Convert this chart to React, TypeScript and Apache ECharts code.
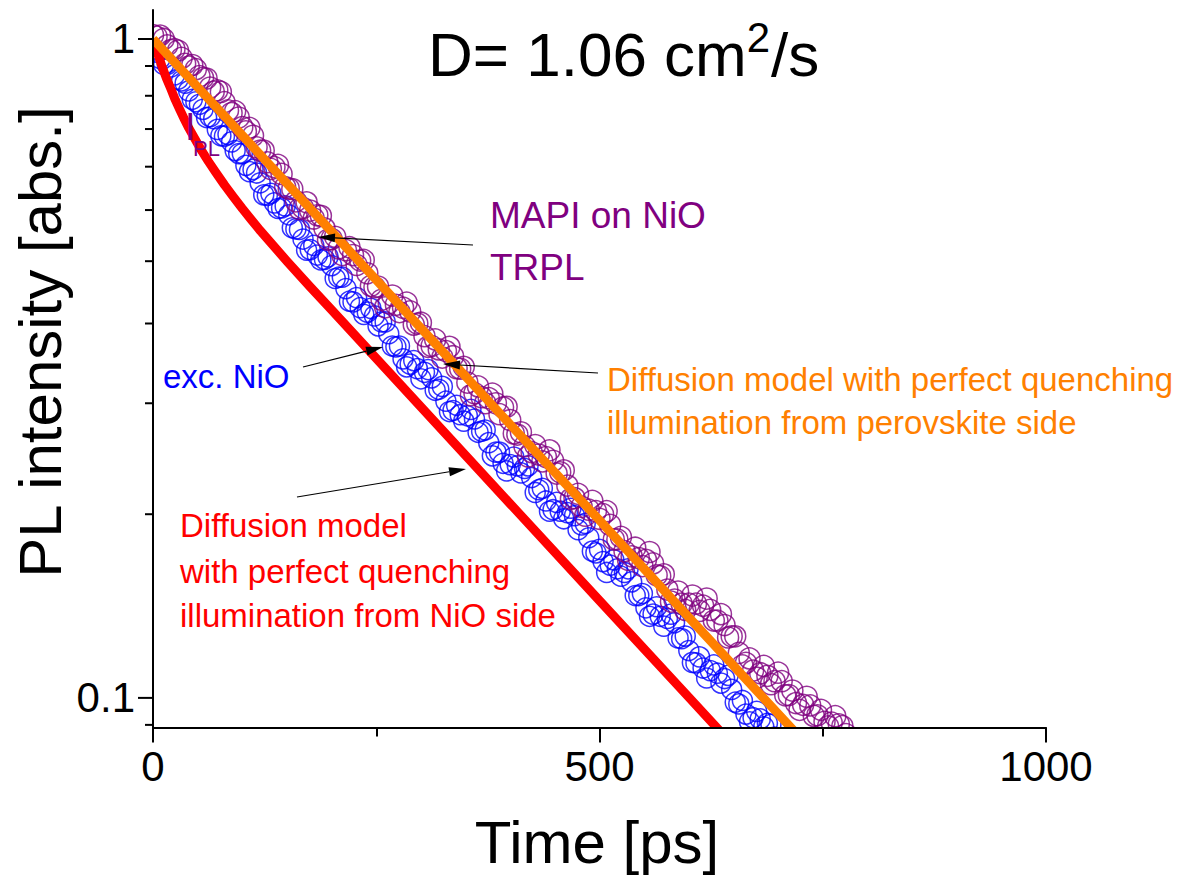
import React, { useEffect, useRef } from "react";
import * as echarts from "echarts";

const FONT = "'Liberation Sans', Arial, Helvetica, sans-serif";

// Sample times (ps) of the TRPL data
const sampleTimes = [
  0, 4, 8, 12, 16, 20, 24, 28, 32, 36, 40, 44, 48, 52, 56, 60, 64, 68, 72, 76,
  80, 84, 88, 92, 96, 100, 104, 108, 112, 116, 120, 124, 128, 132, 136, 140, 144, 148, 152, 156,
  160, 164, 168, 172, 176, 180, 184, 188, 192, 196, 200, 204, 208, 212, 216, 220, 224, 228, 232, 236,
  240, 244, 248, 252, 256, 260, 264, 268, 272, 276, 280, 284, 288, 292, 296, 300, 304, 308, 312, 316,
  320, 324, 328, 332, 336, 340, 344, 348, 352, 356, 360, 364, 368, 372, 376, 380, 384, 388, 392, 396,
  400, 404, 408, 412, 416, 420, 424, 428, 432, 436, 440, 444, 448, 452, 456, 460, 464, 468, 472, 476,
  480, 484, 488, 492, 496, 500, 504, 508, 512, 516, 520, 524, 528, 532, 536, 540, 544, 548, 552, 556,
  560, 564, 568, 572, 576, 580, 584, 588, 592, 596, 600, 604, 608, 612, 616, 620, 624, 628, 632, 636,
  640, 644, 648, 652, 656, 660, 664, 668, 672, 676, 680, 684, 688, 692, 696, 700, 704, 708, 712, 716,
  720, 724, 728, 732, 736, 740, 744, 748, 752, 756, 760, 764, 768, 772, 776,
];

// exc. NiO (blue circles)
const blueValues = [
  0.966, 0.955, 0.934, 0.915, 0.915, 0.907, 0.882, 0.869, 0.864, 0.857,
  0.834, 0.810, 0.803, 0.796, 0.782, 0.760, 0.762, 0.757, 0.729, 0.713,
  0.712, 0.716, 0.698, 0.677, 0.670, 0.670, 0.643, 0.629, 0.634, 0.626,
  0.605, 0.580, 0.579, 0.583, 0.564, 0.553, 0.554, 0.558, 0.541, 0.517,
  0.515, 0.514, 0.497, 0.478, 0.479, 0.486, 0.470, 0.462, 0.463, 0.467,
  0.453, 0.433, 0.435, 0.435, 0.418, 0.400, 0.399, 0.405, 0.391, 0.382,
  0.385, 0.390, 0.380, 0.367, 0.372, 0.372, 0.357, 0.342, 0.341, 0.342,
  0.327, 0.318, 0.321, 0.325, 0.316, 0.305, 0.312, 0.315, 0.306, 0.293,
  0.294, 0.297, 0.282, 0.272, 0.273, 0.278, 0.269, 0.263, 0.268, 0.274,
  0.265, 0.253, 0.254, 0.255, 0.244, 0.233, 0.236, 0.236, 0.227, 0.221,
  0.226, 0.232, 0.225, 0.2195, 0.223, 0.225, 0.216, 0.205, 0.207, 0.208,
  0.199, 0.192, 0.193, 0.198, 0.192, 0.187, 0.191, 0.194, 0.189, 0.180,
  0.183, 0.184, 0.175, 0.167, 0.166, 0.168, 0.161, 0.155, 0.159, 0.162,
  0.157, 0.153, 0.155, 0.157, 0.150, 0.143, 0.143, 0.144, 0.137, 0.133,
  0.134, 0.1375, 0.133, 0.1285, 0.132, 0.134, 0.130, 0.1233, 0.123, 0.1241,
  0.118, 0.1132, 0.113, 0.1154, 0.111, 0.1072, 0.110, 0.1122, 0.109, 0.1053,
  0.107, 0.1082, 0.103, 0.0985, 0.0979, 0.0991, 0.0945, 0.0920, 0.0933, 0.0954,
  0.0929, 0.0904, 0.0915, 0.0912, 0.0872, 0.0860, 0.0835,
];

// MAPI on NiO TRPL (purple circles)
const purpleValues = [
  1.014, 1.008, 1.012, 1.000, 0.978, 0.962, 0.965, 0.960, 0.936, 0.917,
  0.908, 0.913, 0.900, 0.878, 0.873, 0.871, 0.844, 0.832, 0.836, 0.831,
  0.802, 0.779, 0.772, 0.777, 0.760, 0.735, 0.724, 0.733, 0.713, 0.685,
  0.677, 0.677, 0.650, 0.635, 0.639, 0.644, 0.624, 0.596, 0.593, 0.592,
  0.567, 0.552, 0.554, 0.565, 0.549, 0.534, 0.540, 0.539, 0.516, 0.496,
  0.497, 0.501, 0.481, 0.470, 0.478, 0.483, 0.470, 0.454, 0.461, 0.462,
  0.441, 0.422, 0.420, 0.421, 0.402, 0.3915, 0.397, 0.408, 0.395, 0.385,
  0.391, 0.398, 0.386, 0.3685, 0.370, 0.371, 0.354, 0.341, 0.342, 0.350,
  0.338, 0.3285, 0.336, 0.341, 0.330, 0.3165, 0.316, 0.318, 0.301, 0.288,
  0.290, 0.297, 0.286, 0.280, 0.285, 0.2895, 0.280, 0.2695, 0.276, 0.2765,
  0.264, 0.252, 0.251, 0.253, 0.241, 0.2325, 0.236, 0.242, 0.234, 0.2285,
  0.232, 0.2375, 0.229, 0.219, 0.220, 0.2215, 0.210, 0.2005, 0.201, 0.204,
  0.195, 0.189, 0.193, 0.199, 0.192, 0.187, 0.190, 0.192, 0.183, 0.174,
  0.174, 0.1755, 0.167, 0.162, 0.164, 0.169, 0.163, 0.1585, 0.162, 0.1665,
  0.160, 0.1535, 0.153, 0.154, 0.146, 0.140, 0.141, 0.145, 0.139, 0.136,
  0.139, 0.143, 0.139, 0.1355, 0.138, 0.1415, 0.136, 0.131, 0.131, 0.134,
  0.129, 0.1235, 0.124, 0.124, 0.117, 0.112, 0.113, 0.1148, 0.110, 0.1073,
  0.109, 0.1118, 0.108, 0.1049, 0.106, 0.1092, 0.106, 0.1009, 0.101, 0.1026,
  0.0982, 0.0959, 0.0976, 0.1004, 0.0974, 0.0939, 0.0941, 0.0959, 0.0920, 0.0905,
  0.0917, 0.0938, 0.0912, 0.0906, 0.0881,
];

// Diffusion model, illumination from NiO side (red)
const redTimes = [0, 5, 10, 15, 20, 25, 30, 35, 40, 47, 55, 62, 70, 80, 90, 100, 110, 120, 130, 150, 175, 200, 300, 400, 500, 600, 660];
const redValues = [1, 0.952, 0.909, 0.872, 0.84, 0.808, 0.781, 0.756, 0.733, 0.705, 0.675, 0.652, 0.628, 0.6005, 0.576, 0.553, 0.532, 0.512, 0.494, 0.46, 0.422, 0.388, 0.2765, 0.197, 0.1405, 0.1002, 0.0818];

// Diffusion model, illumination from perovskite side (orange)
const orangeTimes = [0, 100, 200, 300, 400, 500, 600, 700, 720];
const orangeValues = [1, 0.714, 0.51, 0.364, 0.26, 0.186, 0.1325, 0.0946, 0.0884];

// y-axis ticks (log axis, linear minor ticks)
const yMajorTicks = [1, 0.1];
const yMajorLabels = ["1", "0.1"];
const yMinorTicks = [0.91, 0.82, 0.73, 0.64, 0.55, 0.46, 0.37, 0.28, 0.19, 0.091];

const Y_MIN = 0.09017;
const Y_MAX = 1.1066;

function arrow(x1: number, y1: number, x2: number, y2: number) {
  const dx = x2 - x1;
  const dy = y2 - y1;
  const L = Math.hypot(dx, dy);
  const ux = dx / L;
  const uy = dy / L;
  const hl = 17;
  const hw = 4.5;
  const bx = x2 - ux * hl;
  const by = y2 - uy * hl;
  return [
    { type: "line", z: 20, shape: { x1, y1, x2: bx, y2: by }, style: { stroke: "#000", lineWidth: 1.2 } },
    {
      type: "polygon",
      z: 20,
      shape: { points: [[x2, y2], [bx - uy * hw, by + ux * hw], [bx + uy * hw, by - ux * hw]] },
      style: { fill: "#000" },
    },
  ];
}

function txt(text: string, x: number, y: number, size: number, color: string) {
  return {
    type: "text",
    x,
    y,
    z: 20,
    style: {
      text,
      fill: color,
      fontSize: size,
      fontFamily: FONT,
      align: "left",
      verticalAlign: "middle",
    },
  };
}

export default function App() {
  const ref = useRef<HTMLDivElement>(null);
  useEffect(() => {
    if (!ref.current) return;
    const chart = echarts.init(ref.current, null, { renderer: "svg" });

    const ctx = document.createElement("canvas").getContext("2d")!;
    const titleMain = "D= 1.06 cm";
    ctx.font = `62px ${FONT}`;
    const w1 = ctx.measureText(titleMain).width;
    ctx.font = `42px ${FONT}`;
    const w2 = ctx.measureText("2").width;

    const blueData = blueValues.map((v, i) => [sampleTimes[i], v]);
    const purpleData = purpleValues.map((v, i) => [sampleTimes[i], v]);
    const redData = redValues.map((v, i) => [redTimes[i], v]);
    const orangeData = orangeValues.map((v, i) => [orangeTimes[i], v]);
    const tickData = [
      ...yMajorTicks.map((v, i) => [0, v, 1, i]),
      ...yMinorTicks.map((v) => [0, v, 0, -1]),
    ];

    const option: any = {
      animation: false,
      backgroundColor: "#fff",
      grid: { left: 153, right: 149, top: 10, bottom: 151.5, containLabel: false },
      xAxis: {
        type: "value",
        min: 0,
        max: 1000,
        interval: 500,
        z: 10,
        axisLine: { show: true, onZero: false, lineStyle: { color: "#000", width: 2 } },
        axisTick: { show: true, length: 15, lineStyle: { color: "#000", width: 2 } },
        minorTick: { show: true, splitNumber: 2, length: 9, lineStyle: { color: "#000", width: 2 } },
        axisLabel: {
          color: "#000",
          fontSize: 42,
          fontFamily: FONT,
          margin: 18,
          formatter: (v: number) => String(v),
        },
        splitLine: { show: false },
        minorSplitLine: { show: false },
      },
      yAxis: {
        type: "log",
        logBase: 10,
        min: Y_MIN,
        max: Y_MAX,
        z: 10,
        axisLine: { show: true, onZero: false, lineStyle: { color: "#000", width: 2 } },
        axisTick: { show: false },
        axisLabel: { show: false },
        splitLine: { show: false },
      },
      series: [
        {
          type: "scatter",
          name: "exc. NiO",
          data: blueData,
          symbol: "circle",
          symbolSize: 20,
          clip: false,
          z: 2,
          itemStyle: { color: "rgba(0,0,0,0)", borderColor: "#0000ff", borderWidth: 1.5 },
        },
        {
          type: "scatter",
          name: "MAPI on NiO TRPL",
          data: purpleData,
          symbol: "circle",
          symbolSize: 21,
          clip: false,
          z: 2,
          itemStyle: { color: "rgba(0,0,0,0)", borderColor: "#800080", borderWidth: 1.5 },
        },
        {
          type: "line",
          name: "Diffusion model NiO side",
          data: redData,
          smooth: false,
          showSymbol: false,
          symbol: "none",
          clip: true,
          z: 3,
          lineStyle: { color: "#ff0000", width: 9, join: "round" },
        },
        {
          type: "line",
          name: "Diffusion model perovskite side",
          data: orangeData,
          smooth: false,
          showSymbol: false,
          symbol: "none",
          clip: true,
          z: 3,
          lineStyle: { color: "#ff8000", width: 9 },
        },
        {
          type: "custom",
          name: "yticks",
          coordinateSystem: "cartesian2d",
          data: tickData,
          z: 12,
          clip: false,
          silent: true,
          renderItem: (params: any, api: any) => {
            const v = api.value(1);
            const major = api.value(2) === 1;
            const li = api.value(3);
            const p = api.coord([0, v]);
            const len = major ? 15 : 8;
            const children: any[] = [
              {
                type: "line",
                shape: { x1: p[0] - len, y1: p[1], x2: p[0], y2: p[1] },
                style: { stroke: "#000", lineWidth: 2 },
              },
            ];
            if (major) {
              children.push({
                type: "text",
                style: {
                  text: yMajorLabels[li],
                  x: p[0] - 18,
                  y: p[1],
                  align: "right",
                  verticalAlign: "middle",
                  fontSize: 42,
                  fontFamily: FONT,
                  fill: "#000",
                },
              });
            }
            return { type: "group", children };
          },
        },
      ],
      graphic: [
        // mask circles overflowing the axes
        { type: "rect", z: 5, shape: { x: 154, y: 729, width: 900, height: 40 }, style: { fill: "#fff" } },
        { type: "rect", z: 5, shape: { x: 110, y: 0, width: 42, height: 110 }, style: { fill: "#fff" } },
        // title
        txt(titleMain, 428, 54, 62, "#000"),
        txt("2", 428 + w1, 37, 42, "#000"),
        txt("/s", 428 + w1 + w2 + 1, 54, 62, "#000"),
        // axis titles
        {
          type: "text",
          x: 597,
          y: 842,
          z: 20,
          style: { text: "Time [ps]", fill: "#000", fontSize: 60, fontFamily: FONT, align: "center", verticalAlign: "middle" },
        },
        {
          type: "text",
          x: 40,
          y: 342,
          z: 20,
          rotation: Math.PI / 2,
          style: { text: "PL intensity [abs.]", fill: "#000", fontSize: 60, fontFamily: FONT, align: "center", verticalAlign: "middle" },
        },
        // I_PL
        txt("I", 185, 127, 38, "#800080"),
        txt("PL", 193, 148, 22, "#800080"),
        // annotations
        txt("MAPI on NiO", 490, 215, 37, "#800080"),
        txt("TRPL", 490, 267, 37, "#800080"),
        txt("exc. NiO", 163, 376, 33, "#0000ff"),
        txt("Diffusion model with perfect quenching", 607, 379, 33, "#ff8000"),
        txt("illumination from perovskite side", 607, 422, 33, "#ff8000"),
        txt("Diffusion model", 180, 525, 33, "#ff0000"),
        txt("with perfect quenching", 180, 571, 33, "#ff0000"),
        txt("illumination from NiO side", 180, 615, 33, "#ff0000"),
        ...arrow(473, 245, 318, 237),
        ...arrow(303, 367, 383, 347),
        ...arrow(598, 373, 443, 364),
        ...arrow(297, 497, 466, 469),
      ],
    };

    chart.setOption(option);
    return () => chart.dispose();
  }, []);

  return (
    <div
      ref={ref}
      style={{ position: "absolute", left: 0, top: 0, width: 1195, height: 879, background: "#fff" }}
    />
  );
}
